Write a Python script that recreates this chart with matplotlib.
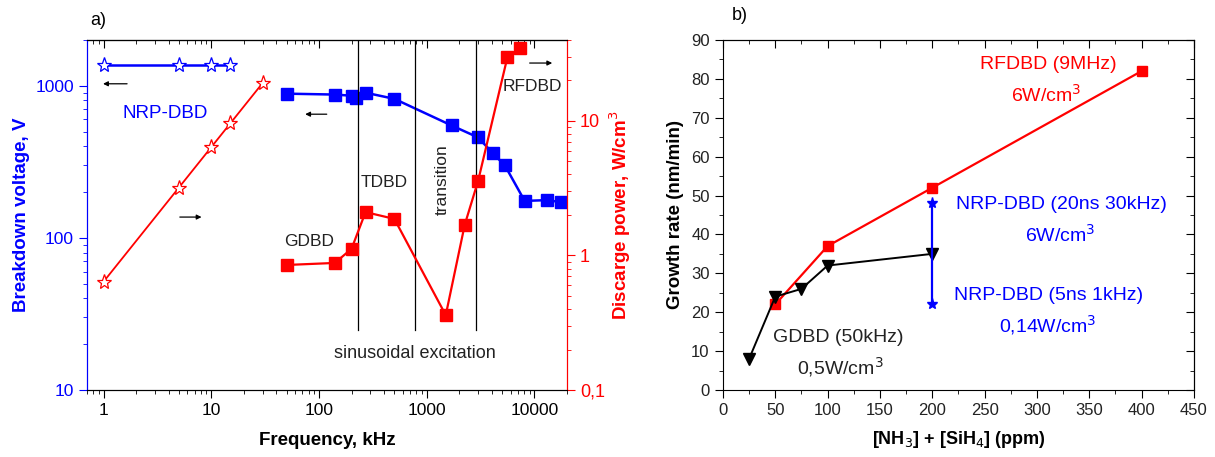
import numpy as np
import matplotlib.pyplot as plt
from matplotlib.ticker import LogLocator, NullFormatter, MultipleLocator

plt.rcParams['font.family'] = ['Liberation Sans', 'DejaVu Sans']
plt.rcParams['font.size'] = 12

# ---- panel a) data
nrp_f = [1, 5, 10, 15]
nrp_v = [1370, 1370, 1370, 1370]
nrp_pf = [1, 5, 10, 15, 30]
nrp_p = [0.64, 3.2, 6.4, 9.6, 19.2]

sin_f = [50, 140, 200, 220, 270, 500, 1700, 3000, 4100, 5300, 8100, 13000, 17500]
sin_v = [887, 875, 860, 835, 900, 820, 548, 457, 360, 300, 175, 177, 172]
sin_pf = [50, 140, 200, 270, 500, 1500, 2250, 3000, 5600, 7400]
sin_p = [0.85, 0.88, 1.12, 2.1, 1.87, 0.36, 1.69, 3.6, 29.7, 34.6]

regime_bounds = [228, 770, 2850]

# ---- panel b) data
conc_rf = [50, 100, 200, 400]
rate_rf = [22, 37, 52, 82]
conc_gd = [25, 50, 75, 100, 200]
rate_gd = [8, 24, 26, 32, 35]
conc_nrp = [200, 200]
rate_nrp = [22, 48]

BLUE = '#0000ff'
RED = '#ff0000'
TXT = '#222222'

fig = plt.figure(figsize=(12.15, 4.57), dpi=100)

# ================= a)
ax = fig.add_axes([0.0716, 0.1466, 0.395, 0.766])
ax2 = ax.twinx()
ax.set_xscale('log')
ax.set_yscale('log')
ax2.set_yscale('log')
ax.set_xlim(0.7, 20000)
ax.set_ylim(10, 2000)
ax2.set_ylim(0.1, 40)

ax.plot(nrp_f, nrp_v, '-', color=BLUE, lw=1.8, marker='*', ms=11,
        mfc='white', mec=BLUE, mew=0.9)
ax.plot(sin_f, sin_v, '-', color=BLUE, lw=1.8, marker='s', ms=8, mfc=BLUE, mec=BLUE)
ax2.plot(nrp_pf, nrp_p, '-', color=RED, lw=1.3, marker='*', ms=11,
         mfc='white', mec=RED, mew=0.9)
ax2.plot(sin_pf, sin_p, '-', color=RED, lw=1.6, marker='s', ms=8, mfc=RED, mec=RED)

for xb in regime_bounds:
    ax.axvline(xb, ymin=0.17, ymax=1, color='black', lw=0.9)

ax.set_xticks([1, 10, 100, 1000, 10000])
ax.set_xticklabels(['1', '10', '100', '1000', '10000'])
ax.xaxis.set_minor_locator(LogLocator(base=10, subs=np.arange(2, 10), numticks=20))
ax.xaxis.set_minor_formatter(NullFormatter())
ax.set_yticks([10, 100, 1000])
ax.set_yticklabels(['10', '100', '1000'])
ax.yaxis.set_minor_locator(LogLocator(base=10, subs=np.arange(2, 10), numticks=20))
ax.yaxis.set_minor_formatter(NullFormatter())
ax2.set_yticks([0.1, 1, 10])
ax2.set_yticklabels(['0,1', '1', '10'])
ax2.yaxis.set_minor_locator(LogLocator(base=10, subs=np.arange(2, 10), numticks=20))
ax2.yaxis.set_minor_formatter(NullFormatter())

ax.tick_params(axis='x', which='major', direction='out', length=6, colors='black', labelsize=12.5)
ax.tick_params(axis='x', which='minor', direction='out', length=3)
ax.tick_params(axis='y', which='major', direction='out', length=6, color=BLUE, labelcolor=BLUE, labelsize=12.5)
ax.tick_params(axis='y', which='minor', direction='out', length=3, color=BLUE)
ax2.tick_params(axis='y', which='major', direction='out', length=6, color=RED, labelcolor=RED, labelsize=13)
ax2.tick_params(axis='y', which='minor', direction='out', length=3, color=RED)

top = ax.secondary_xaxis('top')
top.set_xticks([1, 10, 100, 1000, 10000])
top.xaxis.set_minor_locator(LogLocator(base=10, subs=np.arange(2, 10), numticks=20))
top.tick_params(axis='x', which='major', direction='in', length=6, labeltop=False)
top.tick_params(axis='x', which='minor', direction='in', length=3)
top.xaxis.set_minor_formatter(NullFormatter())

ax2.spines['left'].set_color(BLUE)
ax2.spines['right'].set_color(RED)
ax.spines['left'].set_color(BLUE)
ax.spines['right'].set_color(RED)

ax.set_xlabel('Frequency, kHz', fontweight='bold', fontsize=13.5, labelpad=10)
ax.set_ylabel('Breakdown voltage, V', fontweight='bold', fontsize=13.5, color=BLUE, labelpad=4)
ax2.set_ylabel('Discarge power, W/cm$^3$', fontweight='bold', fontsize=13.5, color=RED, labelpad=2)

ax.text(3.7, 660, 'NRP-DBD', color=BLUE, fontsize=13.5, ha='center', va='center')
ax.text(400, 230, 'TDBD', fontsize=12.5, ha='center', va='center', color=TXT)
ax.text(1400, 240, 'transition', fontsize=12.5, ha='center', va='center', rotation=90, color=TXT)
ax.text(9500, 985, 'RFDBD', fontsize=12.5, ha='center', va='center', color=TXT)
ax.text(80, 94, 'GDBD', fontsize=12.5, ha='center', va='center', color=TXT)
ax.text(780, 17.5, 'sinusoidal excitation', fontsize=13, ha='center', va='center', color=TXT)

arrow = dict(arrowstyle='-|>', color='black', lw=0.9, mutation_scale=7)
ax.annotate('', xy=(0.93, 1030), xytext=(1.75, 1030), arrowprops=arrow)
ax.annotate('', xy=(70, 650), xytext=(125, 650), arrowprops=arrow)
ax.annotate('', xy=(8.6, 137), xytext=(4.8, 137), arrowprops=arrow)
ax.annotate('', xy=(15500, 1410), xytext=(8500, 1410), arrowprops=arrow)

fig.text(0.081, 0.955, 'a)', fontsize=13, ha='center', va='center')

# ================= b)
bx = fig.add_axes([0.595, 0.1466, 0.3877, 0.766])
bx.plot(conc_rf, rate_rf, '-', color=RED, lw=1.6, marker='s', ms=7.5, mfc=RED, mec=RED)
bx.plot(conc_gd, rate_gd, '-', color='black', lw=1.4, marker='v', ms=9, mfc='black', mec='black')
bx.plot(conc_nrp, rate_nrp, '-', color=BLUE, lw=1.6, marker='*', ms=8, mfc=BLUE, mec=BLUE)
bx.set_xlim(0, 450)
bx.set_ylim(0, 90)
bx.xaxis.set_major_locator(MultipleLocator(50))
bx.xaxis.set_minor_locator(MultipleLocator(25))
bx.yaxis.set_major_locator(MultipleLocator(10))
bx.yaxis.set_minor_locator(MultipleLocator(5))
bx.tick_params(axis='both', which='major', direction='out', length=6, labelsize=12, labelcolor=TXT)
bx.tick_params(axis='both', which='minor', direction='out', length=3)

# mirrored inward ticks on top and right
sec_top = bx.secondary_xaxis('top')
sec_top.xaxis.set_major_locator(MultipleLocator(50))
sec_top.xaxis.set_minor_locator(MultipleLocator(25))
sec_top.xaxis.set_major_formatter(NullFormatter())
sec_top.tick_params(which='major', direction='in', length=6)
sec_top.tick_params(which='minor', direction='in', length=3)
sec_right = bx.secondary_yaxis('right')
sec_right.yaxis.set_major_locator(MultipleLocator(10))
sec_right.yaxis.set_minor_locator(MultipleLocator(5))
sec_right.yaxis.set_major_formatter(NullFormatter())
sec_right.tick_params(which='major', direction='in', length=6)
sec_right.tick_params(which='minor', direction='in', length=3)

bx.set_xlabel('[NH$_3$] + [SiH$_4$] (ppm)', fontweight='bold', fontsize=13, labelpad=8)
bx.set_ylabel('Growth rate (nm/min)', fontweight='bold', fontsize=13.5, labelpad=5)

bx.text(311, 83.6, 'RFDBD (9MHz)', color=RED, fontsize=14, ha='center', va='center')
bx.text(309, 76.0, '6W/cm$^3$', color=RED, fontsize=14, ha='center', va='center')
bx.text(323, 47.6, 'NRP-DBD (20ns 30kHz)', color=BLUE, fontsize=14, ha='center', va='center')
bx.text(322, 39.8, '6W/cm$^3$', color=BLUE, fontsize=14, ha='center', va='center')
bx.text(311, 24.4, 'NRP-DBD (5ns 1kHz)', color=BLUE, fontsize=14, ha='center', va='center')
bx.text(310, 16.7, '0,14W/cm$^3$', color=BLUE, fontsize=14, ha='center', va='center')
bx.text(110, 13.4, 'GDBD (50kHz)', color=TXT, fontsize=14, ha='center', va='center')
bx.text(112, 5.8, '0,5W/cm$^3$', color=TXT, fontsize=14, ha='center', va='center')

fig.text(0.609, 0.965, 'b)', fontsize=13, ha='center', va='center')

fig.savefig('out.png', dpi=100)
